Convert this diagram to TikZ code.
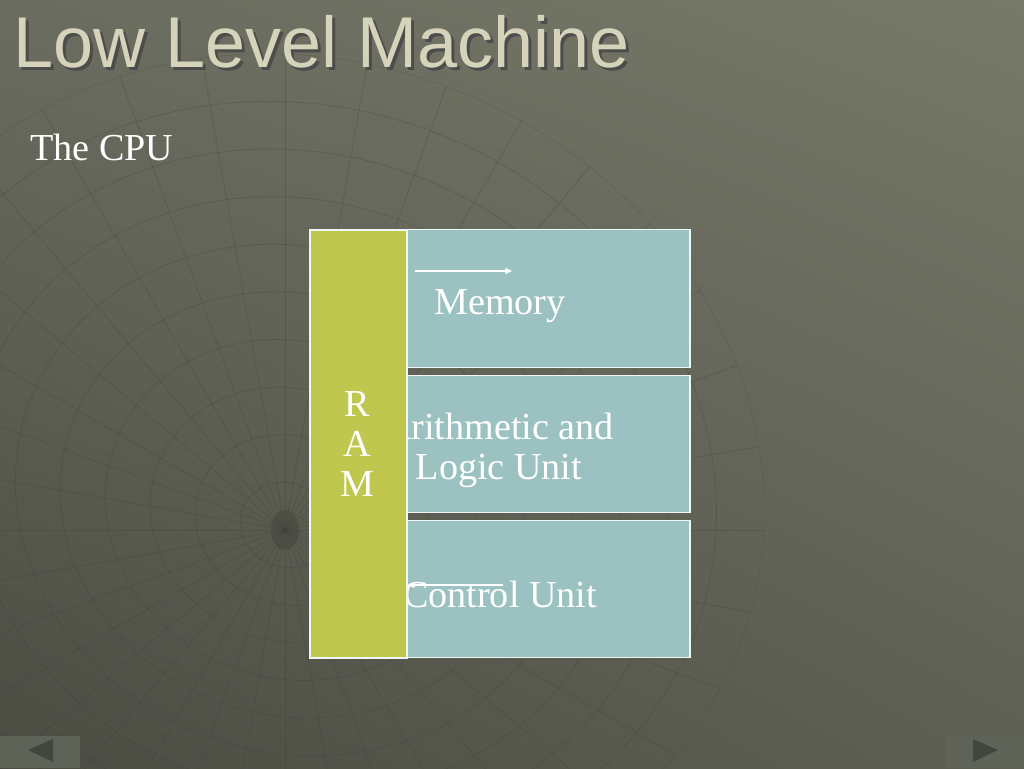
\documentclass[tikz,border=0pt]{standalone}
\usepackage{fontspec}
\setmainfont{Liberation Serif}
\newfontfamily\headfont{Liberation Sans}
\usetikzlibrary{arrows.meta,calc,shadings}
\definecolor{bgdark}{HTML}{4B4D43}
\definecolor{bglight}{HTML}{767869}
\definecolor{bgmidA}{HTML}{6A6C5F}
\definecolor{bgmidB}{HTML}{5E6054}
\definecolor{ramgreen}{HTML}{BFC74F}
\definecolor{unitteal}{HTML}{9BC2C1}
\definecolor{titlebeige}{HTML}{D6D3BB}
\definecolor{navfill}{HTML}{5F6256}
\definecolor{navtri}{HTML}{43463C}
\definecolor{meshline}{HTML}{3C3E36}

\begin{document}
\begin{tikzpicture}[x=0.75pt,y=-0.75pt,>={Triangle[length=5pt,width=4.5pt]},
unit/.style={draw=white!85!unitteal,line width=0.9pt,fill=unitteal,minimum width=212.25pt,minimum height=103pt,inner sep=0pt},
rambox/.style={unit,fill=ramgreen,minimum width=72.75pt,minimum height=321pt},
lbl/.style={text=white,font=\fontsize{28.6}{30}\selectfont,align=center,inner sep=0pt},
flow/.style={->,draw=white,line width=0.9pt},
heading/.style={font=\headfont\fontsize{54}{60}\selectfont,inner sep=0pt,anchor=base west}]
\useasboundingbox (0,0) rectangle (1024,768);
% slide background
\shade[lower left=bgdark,upper right=bglight,upper left=bgmidA,lower right=bgmidB] (0,0) rectangle (1024,768);
% faint mesh
\begin{scope}
\clip (0,0) rectangle (1024,768);
\clip[rotate around={-20:(300,480)}] (300,480) ellipse [x radius=470,y radius=420];
\begin{scope}[draw=meshline,line width=0.5pt,opacity=0.3]
\foreach \a in {0,10,...,350} \draw (285,530) -- ++(\a:1000);
\foreach \t in {0.1,0.2,...,1.0}
  \draw[rotate around={-20:($(285,530)!\t!(300,480)$)}] ($(285,530)!\t!(300,480)$) ellipse [x radius=\t*470,y radius=\t*420];
\end{scope}
\fill[meshline,opacity=0.35] (285,530) ellipse [x radius=14,y radius=20];
\end{scope}
% title
\node[heading,text=black!70] (titleshadow) at (16,70) {Low Level Machine};
\node[heading,text=titlebeige] (title) at (13,67) {Low Level Machine};
\node[lbl,anchor=base west] (sub) at (30,160) {The CPU};
% units
\node[unit] (mem) at (548.5,298.5) {};
\node[unit] (alu) at (548.5,444) {};
\node[unit] (cu) at (548.5,589) {};
\node[lbl] (memlbl) at (500,306) {Memory};
\node[lbl] (alulbl) at (499,450) {Arithmetic and\\Logic Unit};
\node[lbl] (culbl) at (500,594) {Control Unit};
\coordinate (in1) at (415,271);
\coordinate (in2) at (512,271);
\coordinate (out1) at (503,585);
\coordinate (out2) at (408,585);
\draw[flow] (in1) -- (in2);
\draw[flow] (out1) -- (out2);
\node[rambox] (ram) at (358.5,444) {};
\node[lbl] (ramlbl) at (357,444) {R\\A\\M};
% navigation
\fill[navfill] (0,736) rectangle (80,768);
\fill[navtri] (28,750) -- (53,739) -- (53,762) -- cycle;
\fill[navfill] (946,736) rectangle (1024,768);
\fill[navtri] (998,750) -- (973,739) -- (973,762) -- cycle;
\end{tikzpicture}
\end{document}
